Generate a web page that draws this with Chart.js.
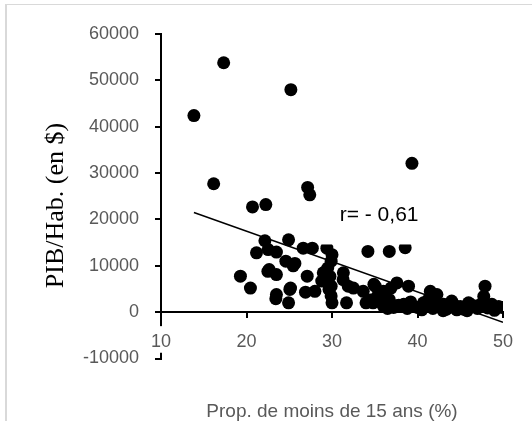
<!DOCTYPE html>
<html>
<head>
<meta charset="utf-8">
<script src="https://cdn.jsdelivr.net/npm/chart.js@4"></script>
<style>
  body { margin: 0; background: #fff; overflow: hidden; }
  #frame { position: absolute; left: 5px; top: 4px; width: 700px; height: 700px;
           border-left: 2px solid #d9d9d9; border-top: 1px solid #d9d9d9; }
  #wrap { position: absolute; left: 0; top: 0; width: 532px; height: 421px; }
</style>
</head>
<body>
<div id="frame"></div>
<div id="wrap"><canvas id="scatter"></canvas></div>
<script>
// Proportion of under-15s (%) and GDP per inhabitant ($), one pair per country
const propUnder15 = [
  13.85, 17.33, 25.19, 16.16, 39.35, 27.15, 27.4, 20.7, 22.26,
  22.15, 24.92, 21.17, 22.54, 23.5, 26.63, 27.7, 24.6, 25.46, 25.66,
  22.65, 22.5, 23.5, 19.29, 20.46, 23.5, 23.43, 25.15, 25.07, 24.92,
  27.1, 26.9, 28.0, 28.98, 28.8, 29.4, 30.0, 29.5, 29.9, 29.76, 29.9,
  29.65, 29.9, 30.0, 31.33, 31.3, 31.9, 31.7, 32.5, 33.65, 34.2, 36.7,
  38.56, 35.05, 34.9, 35.3, 34.8, 36.0, 36.9, 36.7, 33.98, 37.59, 38.95,
  36.4, 36.0, 37.5, 35.5, 35.8, 34.5, 41.5, 42.27, 40.7, 43.05, 44.0,
  45.97, 47.9, 47.75, 48.7, 49.9, 45.4, 43.4, 39.5, 38.4, 46.9,
  36.5, 37.2, 37.8, 38.8, 39.2, 40.0, 40.5, 41.0, 41.3, 41.8, 42.0,
  42.6, 43.0, 43.7, 44.3, 44.6, 45.0, 45.8, 46.3, 47.0, 47.5, 48.2,
  49.0, 49.5
];
const gdpPerHab = [
  42400, 53800, 48000, 27700, 32100, 26900, 25300, 22700, 23200,
  15400, 15600, 12800, 13500, 12950, 13800, 13800, 11000, 10000, 10500,
  9200, 8800, 8100, 7750, 5200, 3800, 2900, 5200, 4900, 2000,
  7750, 4300, 4500, 8500, 6700, 13800, 12400, 9500, 11000, 7700, 5600,
  4900, 3500, 2000, 8500, 7000, 5600, 2000, 5200, 4500, 13100, 13100,
  13900, 5600, 6000, 3400, 2000, 4500, 5200, 2700, 2000, 6300, 5600,
  2000, 1300, 1300, 3000, 4000, 2600, 4500, 3800, 2000, 1700, 2400,
  2000, 5600, 3400, 1700, 1000, 650, 650, 1300, 1700, 1300,
  800, 1000, 1500, 800, 2200, 1000, 500, 1500, 2800, 800, 2000,
  1200, 300, 1000, 1500, 500, 1200, 300, 1600, 800, 1800, 900,
  400, 1200
];
// least-squares line
const trendX = [13.85, 50];
const trendY = [21500, -2200];
const rLabel = "r= - 0,61";
const yTitle = "PIB/Hab. (en $)";

const points = propUnder15.map((x, i) => ({ x: x, y: gdpPerHab[i] }));
const trend = trendX.map((x, i) => ({ x: x, y: trendY[i] }));

// white text box of the r label (it hides part of the points below it),
// plus the vertical axis title, which sits a bit lower than the axis centre
const labelBox = {
  id: "labelBox",
  afterDatasetsDraw(chart) {
    const { ctx, scales } = chart;
    const x0 = scales.x.getPixelForValue(28.8);
    const x1 = scales.x.getPixelForValue(41);
    const y0 = scales.y.getPixelForValue(25000);
    const y1 = scales.y.getPixelForValue(14600);
    ctx.save();
    ctx.fillStyle = "#fff";
    ctx.fillRect(x0, y0, x1 - x0, y1 - y0);
    ctx.fillStyle = "#000";
    ctx.font = "21px 'Liberation Sans'";
    ctx.textBaseline = "middle";
    ctx.fillText(rLabel, scales.x.getPixelForValue(30.9), scales.y.getPixelForValue(20900));

    ctx.translate(56, scales.y.getPixelForValue(23000));
    ctx.rotate(-Math.PI / 2);
    ctx.font = "26px 'Liberation Serif'";
    ctx.textAlign = "center";
    ctx.fillText(yTitle, 0, 0);
    ctx.restore();
  }
};

const plain = (v) => String(v);

new Chart(document.getElementById("scatter"), {
  type: "scatter",
  data: {
    datasets: [
      {
        data: points,
        backgroundColor: "#000",
        borderWidth: 0,
        pointRadius: 6.5,
      },
      {
        type: "line",
        data: trend,
        borderColor: "#000",
        borderWidth: 1.5,
        pointRadius: 0,
        fill: false,
      },
    ],
  },
  options: {
    responsive: true,
    maintainAspectRatio: false,
    animation: false,
    layout: { padding: { top: 34, right: 29, bottom: 0, left: 0 } },
    plugins: {
      legend: { display: false },
      tooltip: { enabled: false },
      title: {
        display: true,
        position: "bottom",
        fullSize: false,
        text: "Prop. de moins de 15 ans (%)",
        color: "#595959",
        font: { family: "Liberation Sans", size: 19, weight: "normal", lineHeight: 1 },
        padding: { top: 43.5, bottom: 0 },
      },
    },
    scales: {
      x: {
        type: "linear",
        position: { y: 0 },
        min: 10,
        max: 50,
        ticks: {
          stepSize: 10,
          callback: plain,
          color: "#595959",
          font: { family: "Liberation Sans", size: 18 },
          padding: 14,
          z: 1,
          showLabelBackdrop: true,
          backdropColor: "#fff",
          backdropPadding: { top: 5, bottom: 0, left: 1, right: 1 },
        },
        grid: { drawOnChartArea: false, tickLength: 5, color: "#000", lineWidth: 2 },
        border: { color: "#000", width: 2 },
      },
      y: {
        min: -10000,
        max: 60000,
        afterFit: (s) => { s.width = 161; },
        ticks: {
          stepSize: 10000,
          callback: plain,
          color: "#595959",
          font: { family: "Liberation Sans", size: 18 },
          padding: 16,
        },
        grid: { drawOnChartArea: false, tickLength: 6, color: "#000", lineWidth: 2 },
        border: { color: "#000", width: 2 },
      },
    },
  },
  plugins: [labelBox],
});
</script>
</body>
</html>
